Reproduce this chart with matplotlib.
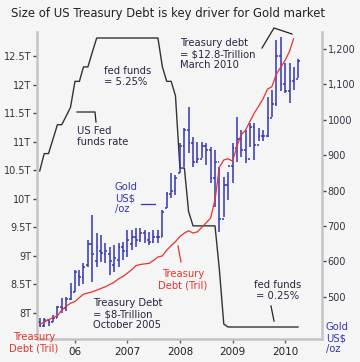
import numpy as np
import pandas as pd
import matplotlib
matplotlib.use('Agg')
import matplotlib.pyplot as plt
import matplotlib.dates as mdates
from matplotlib.lines import Line2D

# monthly data, May 2005 .. Apr 2010
months = pd.date_range('2005-05-01', periods=60, freq='MS')

gold_open = [430, 418, 435, 428, 440, 470, 468, 495, 515, 560,
             555, 590, 650, 600, 630, 620, 620, 590, 605, 640,
             630, 650, 670, 660, 680, 660, 655, 670, 670, 750,
             790, 800, 850, 925, 970, 935, 880, 890, 925, 915,
             835, 880, 720, 815, 870, 920, 945, 915, 890, 980,
             930, 955, 955, 1005, 1045, 1180, 1100, 1080, 1110, 1115]
gold_high = [440, 440, 438, 450, 475, 497, 500, 540, 575, 575,
             595, 660, 731, 680, 675, 652, 640, 646, 652, 655,
             690, 690, 694, 694, 689, 683, 689, 690, 745, 796,
             850, 844, 935, 977, 1036, 951, 937, 937, 934, 923,
             915, 867, 839, 853, 934, 1008, 971, 971, 991, 991,
             977, 971, 1064, 1084, 1225, 1234, 1160, 1160, 1149, 1172]
gold_low = [414, 416, 418, 428, 440, 455, 460, 490, 515, 530,
            535, 585, 542, 584, 598, 595, 562, 570, 584, 604,
            612, 632, 641, 655, 652, 646, 652, 652, 669, 751,
            779, 788, 850, 867, 906, 867, 878, 892, 872, 821,
            754, 683, 726, 774, 821, 881, 895, 878, 923, 887,
            940, 940, 951, 1008, 1040, 1080, 1076, 1048, 1084, 1118]
gold_close = [418, 435, 428, 440, 470, 468, 495, 515, 570, 555,
              585, 650, 620, 640, 625, 630, 600, 610, 640, 630,
              660, 670, 660, 680, 665, 655, 670, 670, 740, 790,
              800, 835, 925, 970, 935, 880, 890, 925, 915, 835,
              880, 720, 815, 870, 920, 945, 915, 890, 980, 930,
              955, 955, 1005, 1045, 1180, 1100, 1080, 1110, 1115, 1165]

# total public debt, trillions (to Mar 2010)
debt = [7.80, 7.84, 7.88, 7.92, 7.95, 8.05, 8.12, 8.17, 8.20, 8.27,
        8.33, 8.35, 8.37, 8.40, 8.43, 8.46, 8.50, 8.54, 8.60, 8.64,
        8.70, 8.76, 8.83, 8.85, 8.86, 8.87, 8.92, 8.98, 9.00, 9.10,
        9.18, 9.25, 9.34, 9.40, 9.44, 9.40, 9.42, 9.50, 9.58, 9.66,
        9.98, 10.55, 10.68, 10.70, 10.66, 10.92, 11.12, 11.20, 11.35, 11.50,
        11.62, 11.75, 11.92, 11.96, 12.18, 12.30, 12.42, 12.58, 12.80]

fed_funds = [2.95, 3.25, 3.25, 3.50, 3.75, 3.75, 3.90, 4.05, 4.50, 4.50,
             4.75, 4.75, 5.00, 5.25, 5.25, 5.25, 5.25, 5.25, 5.25, 5.25,
             5.25, 5.25, 5.25, 5.25, 5.25, 5.25, 5.25, 5.25, 4.75, 4.50,
             4.50, 4.25, 3.00, 3.00, 2.25, 2.00, 2.00, 2.00, 2.00, 2.00,
             2.00, 1.25, 0.30, 0.25, 0.25, 0.25, 0.25, 0.25, 0.25, 0.25,
             0.25, 0.25, 0.25, 0.25, 0.25, 0.25, 0.25, 0.25, 0.25, 0.25]

debt_ticks = [8, 8.5, 9, 9.5, 10, 10.5, 11, 11.5, 12, 12.5]
debt_labels = ['8T', '8.5T', '9T', '9.5T', '10T', '10.5T', '11T', '11.5T', '12T', '12.5T']
gold_ticks = [500, 600, 700, 800, 900, 1000, 1100, 1200]
gold_labels = ['500', '600', '700', '800', '900', '1000', '1,100', '1,200']
year_ticks = ['2006-01-01', '2007-01-01', '2008-01-01', '2009-01-01', '2010-01-01']
year_labels = ['06', '2007', '2008', '2009', '2010']

bg = '#f5f5f5'
blue = '#3535b5'
red = '#e8322e'
dark = '#2a2445'
W, H = 360, 362

fig = plt.figure(figsize=(3.6, 3.62), dpi=100, facecolor=bg)
rect = [37 / W, 1 - 339 / H, (322 - 37) / W, (339 - 32) / H]
ax = fig.add_axes(rect)      # debt (left)
ax2 = ax.twinx()             # gold (right)
ax3 = ax.twinx()             # fed funds (no scale)
for a in (ax, ax2, ax3):
    a.patch.set_visible(False)
ax3.set_zorder(1)
ax2.set_zorder(2)
ax.set_zorder(3)

x = mdates.date2num(months)
half = 12

# fed funds
ax3.plot(x, fed_funds, color='#333333', lw=1.0)
ax3.set_ylim(0.0424, 5.354)
ax3.axis('off')

# gold OHLC bars
for xi, o, h, l, c in zip(x, gold_open, gold_high, gold_low, gold_close):
    ax2.plot([xi, xi], [l, h], color=blue, lw=1.1, solid_capstyle='butt')
    ax2.plot([xi - half, xi], [o, o], color=blue, lw=1.1, solid_capstyle='butt')
    ax2.plot([xi, xi + half], [c, c], color=blue, lw=1.1, solid_capstyle='butt')
ax2.set_ylim(381, 1248)

# debt
ax.plot(x[:len(debt)], debt, color=red, lw=0.9)
ax.set_ylim(7.545, 12.92)

ax.set_xlim(mdates.date2num(pd.Timestamp('2005-04-12')), mdates.date2num(pd.Timestamp('2010-09-15')))

spine_c = '#c4c4c4'
for a in (ax, ax2):
    for s in a.spines.values():
        s.set_visible(False)
ax.spines['left'].set_visible(True)
ax.spines['bottom'].set_visible(True)
ax2.spines['right'].set_visible(True)
for s in (ax.spines['left'], ax.spines['bottom'], ax2.spines['right']):
    s.set_color(spine_c)
    s.set_linewidth(1.8)

ax.set_yticks(debt_ticks)
ax.set_yticklabels(debt_labels)
ax.tick_params(axis='y', length=3, width=1, color='#444444', labelsize=7, labelcolor='#333333', pad=1)
ax2.set_yticks(gold_ticks)
ax2.set_yticklabels(gold_labels)
ax2.tick_params(axis='y', length=3, width=1, color='#444444', labelsize=7, labelcolor='#333344', pad=1)
ax.set_xticks(mdates.date2num(pd.to_datetime(year_ticks)))
ax.set_xticklabels(year_labels)
ax.tick_params(axis='x', length=3, width=1, color='#666666', labelsize=7.5, labelcolor='#222222', pad=3)

def fx(px):
    return px / W

def fy(py):
    return 1 - py / H

fig.text(fx(168), fy(13), 'Size of US Treasury Debt is key driver for Gold market',
         ha='center', va='center', fontsize=8.4, color='#222222')

def note(px, py, s, color=dark, ha='left', size=7.2):
    fig.text(fx(px), fy(py), s, ha=ha, va='top', fontsize=size, color=color, linespacing=1.15)

def leader(pts, color='#222222'):
    xs = [fx(p[0]) for p in pts]
    ys = [fy(p[1]) for p in pts]
    fig.add_artist(Line2D(xs, ys, color=color, lw=0.9, transform=fig.transFigure))

note(104, 66, 'fed funds\n= 5.25%')
note(77, 126, 'US Fed\nfunds rate')
leader([(77, 112), (95, 112), (96, 122)])
note(115, 182, 'Gold\nUS$\n/oz', color=blue)
leader([(141, 204), (155, 204)], color=blue)
note(183, 269, 'Treasury\nDebt (Tril)', color=red, ha='center')
leader([(178, 246), (181, 262)], color=red)
note(93, 298, 'Treasury Debt\n= $8-Trillion\nOctober 2005')
note(278, 280, 'fed funds\n= 0.25%', ha='center')
leader([(271, 306), (274, 321)])
note(180, 38, 'Treasury debt\n= $12.8-Trillion\nMarch 2010')
leader([(262, 48), (274, 28), (292, 34)])
note(34, 332, 'Treasury\nDebt (Tril)', color=red, ha='center')
note(326, 322, 'Gold\nUS$\n/oz', color=blue)

fig.savefig('out.png', dpi=100, facecolor=bg)
